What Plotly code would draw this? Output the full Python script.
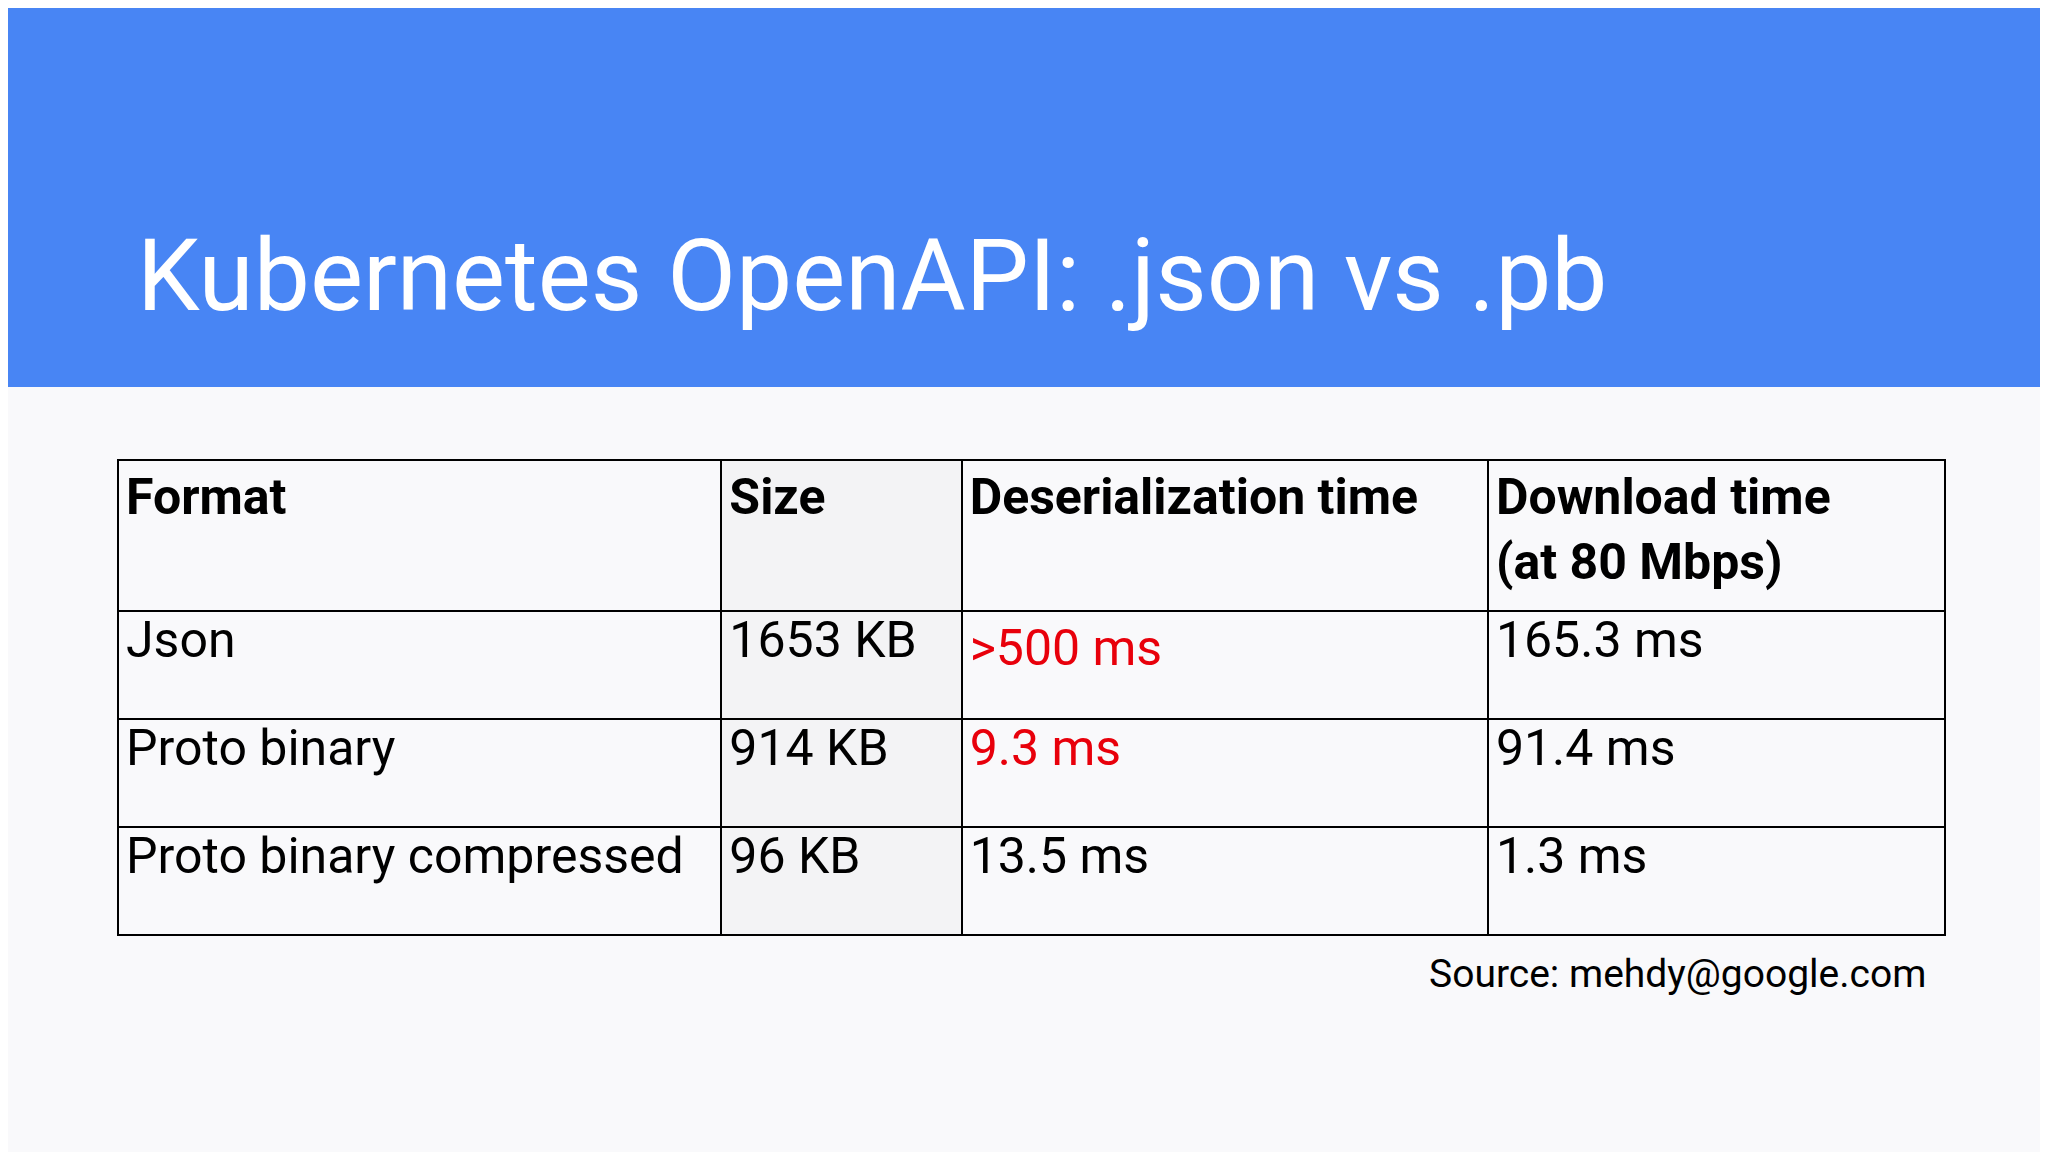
import plotly.graph_objects as go

title = "Kubernetes OpenAPI: .json vs .pb"
headers = ["Format", "Size", "Deserialization time", "Download time<br>(at 80 Mbps)"]
formats = ["Json", "Proto binary", "Proto binary compressed"]
sizes = ["1653 KB", "914 KB", "96 KB"]
deser = [">500 ms", "9.3 ms", "13.5 ms"]
download = ["165.3 ms", "91.4 ms", "1.3 ms"]
source = "Source: mehdy@google.com"

RED = "#e8000b"
deser_colors = [RED, RED, "black"]

fig = go.Figure(go.Table(
    domain=dict(x=[110 / 2048, 1937 / 2048], y=[0, 1 - 452 / 1152]),
    columnwidth=[462, 184, 403, 350],
    header=dict(
        values=["<b>%s</b>" % h for h in headers],
        align="left",
        height=151,
        line=dict(color="black", width=2),
        fill=dict(color=["#f9f9fb", "#f3f3f5", "#f9f9fb", "#f9f9fb"]),
        font=dict(family="Roboto", size=50, color="black"),
    ),
    cells=dict(
        values=[formats, sizes, deser, download],
        align="left",
        height=108,
        line=dict(color="black", width=2),
        fill=dict(color=["#f9f9fb", "#f3f3f5", "#f9f9fb", "#f9f9fb"]),
        font=dict(family="Roboto", size=50,
                  color=[["black"] * 3, ["black"] * 3, deser_colors, ["black"] * 3]),
    ),
))

fig.add_shape(type="rect", xref="paper", yref="paper", x0=0, x1=1,
              y0=1 - 379 / 1152, y1=1, fillcolor="#4885f4", line_width=0, layer="below")
fig.add_annotation(text=title, xref="paper", yref="paper", x=127 / 2048, y=1 - 268 / 1152,
                   xanchor="left", yanchor="middle", showarrow=False,
                   font=dict(family="Roboto", size=100, color="white"))
fig.add_annotation(text=source, xref="paper", yref="paper", x=1920 / 2048, y=1 - 966 / 1152,
                   xanchor="right", yanchor="middle", showarrow=False,
                   font=dict(family="Roboto", size=39, color="black"))

fig.update_layout(width=2048, height=1152, margin=dict(l=0, r=0, t=0, b=0),
                  paper_bgcolor="#f9f9fb", plot_bgcolor="#f9f9fb")
fig.write_html("out.html")
